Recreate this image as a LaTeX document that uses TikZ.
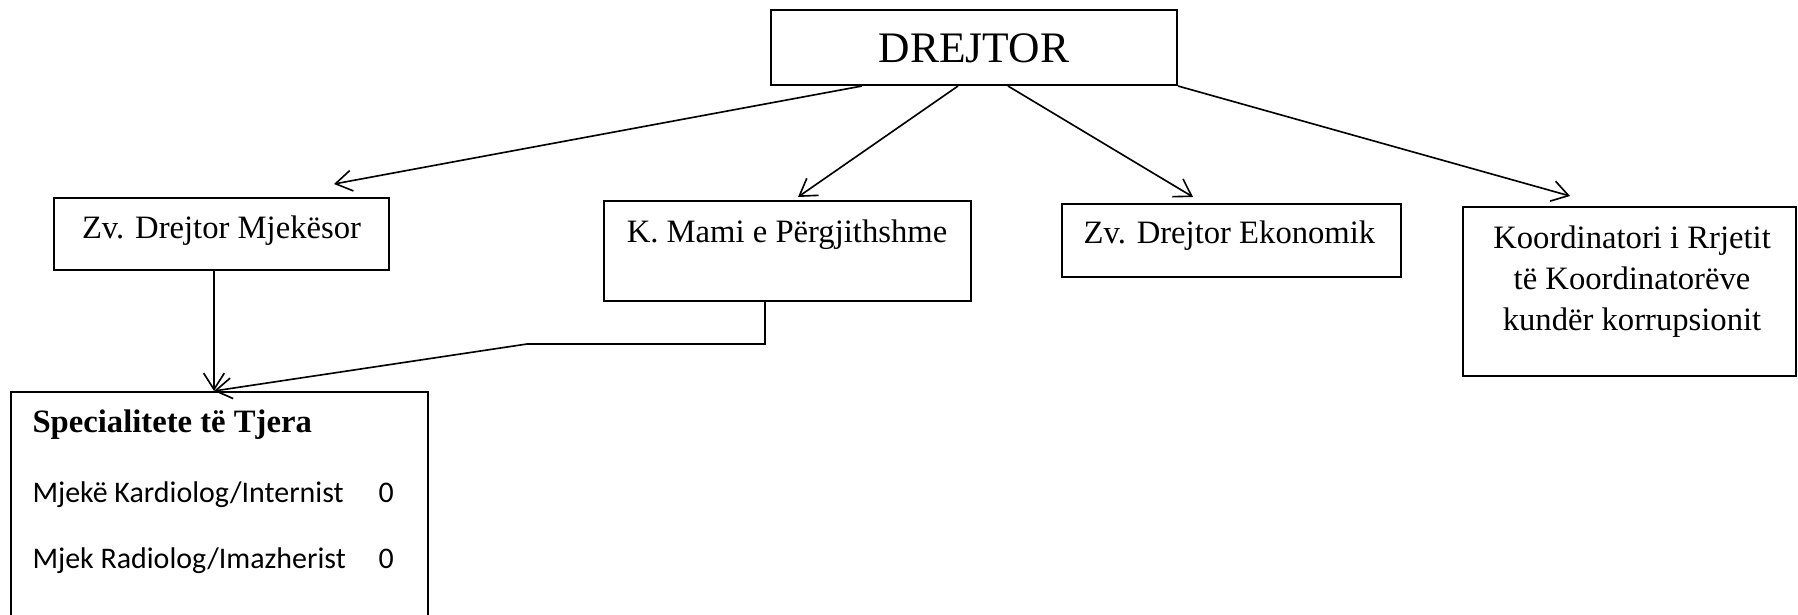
\documentclass[tikz,border=0pt]{standalone}
\usepackage{fontspec}
\setmainfont{Liberation Serif}
\newfontfamily\carlitofont{Carlito}
\usetikzlibrary{arrows.meta,fit,calc}
\begin{document}
\begin{tikzpicture}[x=0.3675pt,y=-0.3675pt,
  box/.style={draw, line width=0.75pt, inner sep=0pt, rectangle},
  arr/.style={-{Straight Barb[length=6pt,width=7.6pt]}, line width=0.6pt},
  lbl/.style={inner sep=0pt, font=\fontsize{12}{14}\selectfont},
  big/.style={inner sep=0pt, font=\fontsize{16}{19}\selectfont},
  sans/.style={inner sep=0pt, font=\carlitofont\fontsize{11}{13}\selectfont}]
\useasboundingbox (0,0) rectangle (1798,614);
% boxes
\node[box, fit={(771,10) (1177,85)}] (drejtor) {};
\node[box, fit={(54,198) (389,270)}] (zvm) {};
\node[box, fit={(604,201) (971,301)}] (kmami) {};
\node[box, fit={(1062,204) (1401,277)}] (zve) {};
\node[box, fit={(1463,207) (1796,376)}] (koord) {};
\node[box, fit={(11,392) (428,640)}] (spec) {};
% texts
\node[big, anchor=base] (tdrejtor) at (974,62) {DREJTOR};
\node[lbl, anchor=base] (tzvm) at (221.5,238) {Zv. Drejtor Mjekësor};
\node[lbl, anchor=base] (tkmami) at (787,242) {K. Mami e Përgjithshme};
\node[lbl, anchor=base west] (tzve) at (1083,243) {Zv. Drejtor Ekonomik};
\node[lbl, anchor=base] (tk1) at (1632,248) {Koordinatori i Rrjetit};
\node[lbl, anchor=base] (tk2) at (1632,289) {të Koordinatorëve};
\node[lbl, anchor=base] (tk3) at (1632,330) {kundër korrupsionit};
\node[lbl, anchor=base west, font=\fontsize{12}{14}\selectfont\bfseries] (tspec) at (32,432) {Specialitete të Tjera};
\node[sans, anchor=base west] (tr1) at (32,502) {Mjekë Kardiolog/Internist};
\node[sans, anchor=base west] (tv1) at (378,502) {0};
\node[sans, anchor=base west] (tr2) at (32,568) {Mjek Radiolog/Imazherist};
\node[sans, anchor=base west] (tv2) at (378,568) {0};
% arrow tips (free ends)
\coordinate (t1) at (334,184);
\coordinate (t2) at (798,197);
\coordinate (t3) at (1193,197);
\coordinate (t4) at (1570,196);
\coordinate (bend) at (527,344);
% connectors
\draw[arr] ($(drejtor.south west)+(92,0)$) -- (t1);
\draw[arr] ($(drejtor.south west)+(188,0)$) -- (t2);
\draw[arr] ($(drejtor.south west)+(238,0)$) -- (t3);
\draw[arr] (drejtor.south east) -- (t4);
\draw[arr] ($(zvm.south west)+(161,0)$) -- ($(spec.north west)+(204,0)$);
\draw[arr] ($(kmami.south west)+(162,0)$) |- (bend) -- ($(spec.north west)+(204,0)$);
\end{tikzpicture}
\end{document}
